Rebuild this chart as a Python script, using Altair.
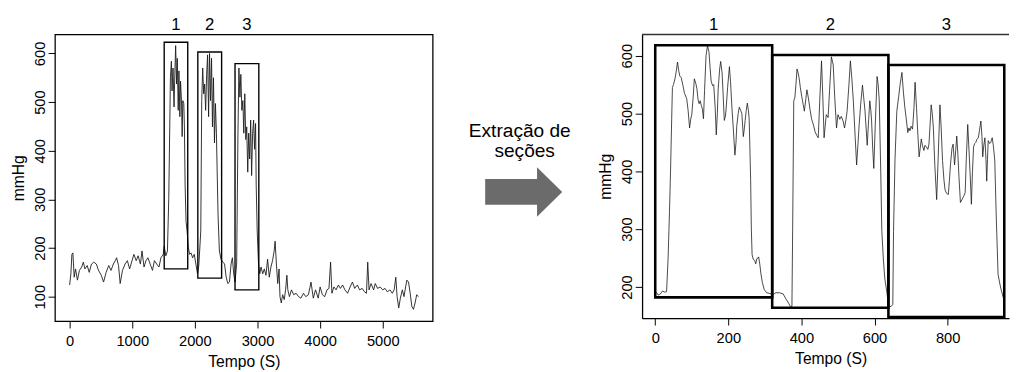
import altair as alt
import pandas as pd

FONT = "Liberation Sans"

# ---------------- data ----------------
LEFT_T = [0, 20, 36, 52, 73, 94, 125, 156, 193, 219, 245, 281, 313, 349, 385, 427, 458, 505, 542, 583,
          625, 661, 698, 729, 750, 781, 807, 844, 885, 922, 958, 990, 1026, 1063, 1094, 1130, 1156, 1188, 1219, 1250,
          1286, 1323, 1354, 1391, 1427, 1458, 1495, 1510, 1536, 1562, 1583, 1599, 1609, 1625, 1635, 1651, 1667, 1677, 1693, 1708,
          1719, 1734, 1745, 1760, 1771, 1786, 1797, 1807, 1823, 1833, 1844, 1859, 1875, 1896, 1917, 1938, 1964, 1990, 2016, 2042,
          2063, 2094, 2109, 2125, 2141, 2156, 2172, 2188, 2203, 2219, 2234, 2250, 2266, 2281, 2297, 2313, 2328, 2344, 2354, 2370,
          2391, 2417, 2448, 2474, 2500, 2526, 2552, 2578, 2599, 2620, 2641, 2667, 2688, 2703, 2719, 2734, 2750, 2766, 2781, 2797,
          2813, 2828, 2844, 2859, 2875, 2891, 2906, 2922, 2938, 2953, 2969, 2979, 2995, 3016, 3036, 3057, 3083, 3109, 3135, 3161,
          3188, 3214, 3240, 3266, 3281, 3302, 3323, 3344, 3359, 3380, 3401, 3427, 3448, 3469, 3484, 3510, 3542, 3578, 3615, 3656,
          3693, 3734, 3771, 3813, 3854, 3891, 3927, 3969, 4000, 4036, 4073, 4109, 4141, 4167, 4188, 4219, 4255, 4292, 4323, 4359,
          4396, 4438, 4479, 4516, 4552, 4594, 4630, 4672, 4708, 4740, 4760, 4781, 4813, 4854, 4880, 4917, 4958, 5000, 5036, 5073,
          5115, 5151, 5182, 5208, 5229, 5255, 5281, 5313, 5339, 5365, 5385, 5411, 5438, 5464, 5490, 5516, 5542, 5568]
LEFT_V = [124, 147, 187, 190, 140, 157, 134, 154, 161, 171, 157, 164, 150, 167, 171, 167, 155, 144, 130, 150,
          164, 154, 167, 174, 180, 164, 127, 154, 167, 174, 157, 171, 187, 174, 184, 167, 194, 161, 174, 180,
          167, 154, 174, 167, 161, 180, 187, 204, 184, 194, 302, 449, 550, 584, 523, 570, 490, 543, 616, 537,
          590, 483, 564, 470, 543, 503, 429, 503, 497, 449, 329, 255, 235, 201, 187, 190, 180, 187, 167, 147,
          164, 235, 503, 570, 517, 537, 483, 557, 597, 470, 600, 503, 590, 449, 550, 416, 497, 436, 369, 268,
          194, 177, 171, 167, 140, 127, 130, 167, 180, 147, 130, 167, 436, 570, 510, 557, 483, 503, 436, 517,
          423, 449, 356, 436, 383, 463, 349, 436, 463, 403, 456, 329, 235, 167, 147, 161, 147, 157, 144, 177,
          140, 161, 174, 194, 214, 167, 127, 157, 100, 87, 104, 94, 114, 144, 114, 100, 114, 104, 107, 100,
          97, 107, 100, 104, 130, 97, 114, 97, 120, 104, 100, 114, 117, 171, 107, 120, 114, 124, 117, 124,
          114, 107, 120, 130, 117, 124, 114, 117, 110, 107, 171, 114, 127, 114, 127, 117, 120, 114, 117, 110,
          114, 107, 114, 140, 100, 77, 97, 114, 100, 120, 134, 130, 107, 80, 74, 87, 104, 100]

RIGHT_T = [0, 4, 8, 14, 20, 26, 31, 35, 39, 42, 45, 47, 50, 54, 58, 61, 64, 67, 71, 76,
           80, 86, 90, 94, 97, 100, 104, 107, 111, 114, 117, 120, 123, 126, 129, 132, 135, 139, 143, 147,
           150, 153, 157, 160, 164, 167, 170, 172, 176, 179, 183, 186, 189, 192, 194, 198, 203, 206, 210, 214,
           218, 221, 223, 227, 230, 234, 237, 241, 244, 246, 249, 252, 255, 257, 259, 261, 263, 265, 268, 272,
           275, 278, 281, 283, 286, 289, 293, 298, 305, 312, 318,
           320, 330, 340, 350, 357, 365, 370, 374, 376, 379, 382, 385, 388, 391, 394, 397, 401, 405, 408, 412,
           415, 419, 424, 428, 433, 437, 442, 446, 450, 455, 459, 462, 465, 468, 473, 477, 482, 487, 491, 496,
           500, 505, 509, 514, 518, 522, 525, 530, 534, 538, 542, 547, 551, 555, 558, 562, 567, 570, 574, 577,
           580, 584, 587, 590, 592, 595, 598, 602, 607, 610, 613, 617, 620, 624, 628, 634,
           638, 645, 650, 652, 656, 661, 666, 670, 675, 679, 683, 686, 691, 694, 697, 700, 704, 708, 711, 715,
           718, 722, 725, 728, 731, 735, 738, 742, 746, 749, 752, 755, 758, 761, 765, 770, 774, 779, 782, 786,
           790, 793, 797, 802, 805, 808, 812, 815, 819, 822, 825, 828, 831, 835, 840, 844, 848, 851, 855, 859,
           862, 865, 868, 871, 874, 877, 880, 884, 887, 891, 894, 896, 899, 902, 905, 907, 909, 911, 915, 918,
           922, 925, 929, 933, 938, 943, 947, 953]
RIGHT_V = [192, 190, 186, 188, 193, 191, 192, 246, 330, 404, 490, 545, 550, 560, 575, 589, 575, 565, 562, 548,
           535, 526, 505, 475, 490, 498, 530, 560, 552, 543, 525, 517, 522, 514, 508, 491, 540, 600, 617, 607,
           580, 556, 548, 550, 510, 463, 500, 540, 575, 590, 570, 530, 488, 495, 508, 545, 581, 555, 508, 470,
           428, 450, 478, 500, 511, 505, 500, 460, 475, 488, 505, 518, 505, 491, 440, 386, 300, 256, 248, 246,
           240, 249, 250, 252, 240, 224, 208, 196, 190, 189, 188,
           186, 190, 190, 188, 180, 172, 166, 166, 300, 522, 527, 550, 577, 570, 560, 545, 529, 515, 504, 525,
           541, 527, 505, 490, 480, 469, 462, 458, 520, 591, 520, 458, 478, 498, 493, 540, 598, 584, 530, 475,
           498, 490, 495, 487, 475, 490, 504, 550, 591, 560, 522, 460, 411, 450, 481, 515, 549, 530, 504, 475,
           445, 490, 522, 505, 487, 440, 405, 480, 564, 550, 522, 400, 296, 250, 215, 190,
           168, 166, 170, 296, 420, 504, 529, 550, 571, 537, 510, 495, 467, 475, 470, 478, 473, 510, 554, 509,
           470, 425, 440, 456, 445, 436, 445, 442, 438, 447, 480, 515, 500, 475, 410, 351, 420, 515, 480, 419,
           385, 368, 362, 360, 385, 413, 440, 447, 411, 435, 461, 430, 391, 346, 352, 357, 363, 420, 481, 430,
           390, 343, 400, 442, 448, 450, 455, 458, 470, 487, 460, 425, 445, 458, 420, 383, 420, 453, 448, 450,
           458, 445, 419, 323, 222, 205, 194, 180]

BOX_LABELS = ["1", "2", "3"]
LEFT_BOX_X1 = [1510, 2047, 2641]
LEFT_BOX_X2 = [1886, 2427, 3021]
LEFT_BOX_Y1 = [157, 138, 114]
LEFT_BOX_Y2 = [623, 603, 579]
RIGHT_BOX_X1 = [0, 320, 638]
RIGHT_BOX_X2 = [320, 638, 955]
RIGHT_BOX_Y1 = [182, 164, 148]
RIGHT_BOX_Y2 = [618, 601, 584]

LEFT_XTICKS = [0, 1000, 2000, 3000, 4000, 5000]
LEFT_YTICKS = [100, 200, 300, 400, 500, 600]
RIGHT_XTICKS = [0, 200, 400, 600, 800]
RIGHT_YTICKS = [200, 300, 400, 500, 600]
LEFT_XDOM = [-234, 5797]
LEFT_YDOM = [49.7, 639]
RIGHT_XDOM = [-36, 968]
RIGHT_YDOM = [146, 636.7]

ARROW_TEXT = ["Extração de", "seções"]
X_TITLE = "Tempo (S)"
Y_TITLE = "mmHg"

ARROW_PATH = ("M -1 -0.334 L 0.347 -0.334 L 0.347 -0.644 L 1 0 "
              "L 0.347 0.644 L 0.347 0.334 L -1 0.334 Z")


# ---------------- helpers ----------------
def base_axis(values, title, **kw):
    return alt.Axis(values=values, title=title, format="d",
                    labelFont=FONT, labelFontSize=15, labelColor="black",
                    titleFont=FONT, titleFontSize=16, titleFontWeight="normal", titleColor="black",
                    tickColor="black", tickSize=7, tickWidth=1, grid=False,
                    labelFlush=False, labelOverlap=False, **kw)


def xaxis(values, **kw):
    return base_axis(values, X_TITLE, labelPadding=6, titlePadding=5, **kw)


def yaxis(values, **kw):
    return base_axis(values, Y_TITLE, labelAngle=270, labelAlign="center",
                     labelBaseline="alphabetic", labelPadding=4, titlePadding=6, **kw)


def panel(t, v, x1, x2, y1, y2, xdom, ydom, xticks, yticks, width, height,
          line_w, box_w, right_style):
    sx = alt.Scale(domain=xdom, nice=False, zero=False)
    sy = alt.Scale(domain=ydom, nice=False, zero=False)
    if right_style:
        x_kw = dict(domain=True, domainColor="black", domainWidth=1.3, titleX=192.7)
        y_kw = dict(domain=True, domainColor="black", domainWidth=1.3)
    else:
        x_kw = dict(domain=False)
        y_kw = dict(domain=False)
    ax_x = xaxis(xticks, **x_kw)
    ax_y = yaxis(yticks, **y_kw)
    line = alt.Chart(pd.DataFrame({"t": t, "v": v})).mark_line(
        color="#1a1a1a", strokeWidth=line_w, clip=True).encode(
        x=alt.X("t:Q", scale=sx, axis=ax_x),
        y=alt.Y("v:Q", scale=sy, axis=ax_y),
    )
    box_df = pd.DataFrame({"x1": x1, "x2": x2, "y1": y1, "y2": y2, "label": BOX_LABELS})
    boxes = alt.Chart(box_df).mark_rect(fillOpacity=0, stroke="black", strokeWidth=box_w).encode(
        x=alt.X("x1:Q", scale=sx, axis=ax_x), x2="x2:Q",
        y=alt.Y("y1:Q", scale=sy, axis=ax_y), y2="y2:Q",
    )
    labels = alt.Chart(box_df).transform_calculate(xc="(datum.x1 + datum.x2) / 2").mark_text(
        font=FONT, fontSize=17, baseline="middle", color="black").encode(
        x=alt.X("xc:Q", scale=sx, axis=ax_x),
        y=alt.value(-10),
        text="label:N",
    )
    layers = [line, boxes, labels]
    if right_style:
        top_df = pd.DataFrame({"a": [xdom[0]], "b": [xdom[1]], "c": [ydom[1]]})
        top = alt.Chart(top_df).mark_rule(color="#333", strokeWidth=1.5).encode(
            x=alt.X("a:Q", scale=sx, axis=ax_x), x2="b:Q",
            y=alt.Y("c:Q", scale=sy, axis=ax_y),
        )
        layers.append(top)
        view = alt.ViewBackground(strokeWidth=0)
    else:
        view = alt.ViewBackground(stroke="black", strokeWidth=1.3)
    return alt.layer(*layers).properties(width=width, height=height, view=view)


left = panel(LEFT_T, LEFT_V, LEFT_BOX_X1, LEFT_BOX_X2, LEFT_BOX_Y1, LEFT_BOX_Y2,
             LEFT_XDOM, LEFT_YDOM, LEFT_XTICKS, LEFT_YTICKS, 386, 293, 0.9, 1.4, False)
right = panel(RIGHT_T, RIGHT_V, RIGHT_BOX_X1, RIGHT_BOX_X2, RIGHT_BOX_Y1, RIGHT_BOX_Y2,
              RIGHT_XDOM, RIGHT_YDOM, RIGHT_XTICKS, RIGHT_YTICKS, 375, 290, 0.8, 2.6, True)

# middle: caption and arrow
txt1 = alt.Chart(pd.DataFrame({"s": [ARROW_TEXT[0]]})).mark_text(
    font=FONT, fontSize=19.5, align="center", baseline="alphabetic", color="black").encode(
    x=alt.value(88), y=alt.value(105), text="s:N")
txt2 = alt.Chart(pd.DataFrame({"s": [ARROW_TEXT[1]]})).mark_text(
    font=FONT, fontSize=19.5, align="center", baseline="alphabetic", color="black").encode(
    x=alt.value(93), y=alt.value(125.5), text="s:N")
arrow = alt.Chart(pd.DataFrame({"s": ["arrow"]})).mark_point(
    shape=ARROW_PATH, filled=True, color="#6b6b6b", size=6194, opacity=1, strokeWidth=0).encode(
    x=alt.value(92), y=alt.value(161))
mid = alt.layer(txt1, txt2, arrow).properties(width=168, height=290,
                                             view=alt.ViewBackground(strokeWidth=0))

chart = alt.hconcat(left, mid, right, spacing=0).properties(
    padding={"left": 2, "top": 3, "right": 0, "bottom": 0})

chart.save("out.html", embed_options={"renderer": "svg", "actions": False})
